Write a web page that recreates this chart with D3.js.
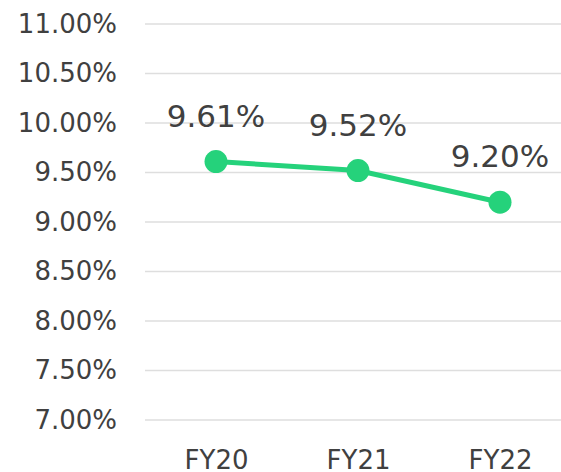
<!DOCTYPE html>
<html>
<head>
<meta charset="utf-8">
<script src="https://cdn.jsdelivr.net/npm/d3@7/dist/d3.min.js"></script>
<style>
  body { margin: 0; background: #fff; }
  text { font-family: "DejaVu Sans", Verdana, sans-serif; fill: #404040; }
</style>
</head>
<body>
<svg id="chart" width="561" height="472"></svg>
<script>
'use strict';

// chart data
var years = ["FY20", "FY21", "FY22"];
var rates = [9.61, 9.52, 9.20];
var yTicks = [7.0, 7.5, 8.0, 8.5, 9.0, 9.5, 10.0, 10.5, 11.0];

(function () {
    var svg = d3.select("#chart");

    var x = d3.scalePoint().domain(years).range([145, 571]).padding(0.5);
    var y = d3.scaleLinear().domain([7, 11]).range([420, 24]);

    // gridlines
    svg.append("g")
      .selectAll("line")
      .data(yTicks)
      .enter().append("line")
        .attr("x1", 145).attr("x2", 561)
        .attr("y1", function (d) { return y(d); })
        .attr("y2", function (d) { return y(d); })
        .attr("stroke", "#dedede")
        .attr("stroke-width", 1.5);

    // y axis labels
    var yAxis = d3.axisLeft(y).tickValues(yTicks)
        .tickFormat(function (d) { return d.toFixed(2) + "%"; })
        .tickSize(0).tickPadding(0);
    var ya = svg.append("g").attr("transform", "translate(117,0)").call(yAxis);
    ya.select(".domain").remove();
    ya.selectAll("text").attr("font-size", 26).attr("font-family", null).attr("fill", "#404040");

    // x axis labels
    var xAxis = d3.axisBottom(x).tickSize(0).tickPadding(0);
    var xa = svg.append("g").attr("transform", "translate(0,448)").call(xAxis);
    xa.select(".domain").remove();
    xa.selectAll("text").attr("font-size", 26).attr("font-family", null).attr("fill", "#404040")
      .attr("dy", "0.8em");

    var pts = years.map(function (d, i) { return { k: d, v: rates[i] }; });

    var line = d3.line()
        .x(function (d) { return x(d.k); })
        .y(function (d) { return y(d.v); });

    svg.append("path")
      .datum(pts)
      .attr("d", line)
      .attr("fill", "none")
      .attr("stroke", "#25d27b")
      .attr("stroke-width", 5);

    svg.selectAll("circle.pt")
      .data(pts)
      .enter().append("circle")
        .attr("class", "pt")
        .attr("cx", function (d) { return x(d.k); })
        .attr("cy", function (d) { return y(d.v); })
        .attr("r", 11.5)
        .attr("fill", "#25d27b");

    // data labels
    svg.selectAll("text.lbl")
      .data(pts)
      .enter().append("text")
        .attr("class", "lbl")
        .attr("x", function (d) { return x(d.k); })
        .attr("y", function (d) { return y(d.v) - 35; })
        .attr("text-anchor", "middle")
        .attr("font-size", 31)
        .text(function (d) { return d.v.toFixed(2) + "%"; });
})();
</script>
</body>
</html>
